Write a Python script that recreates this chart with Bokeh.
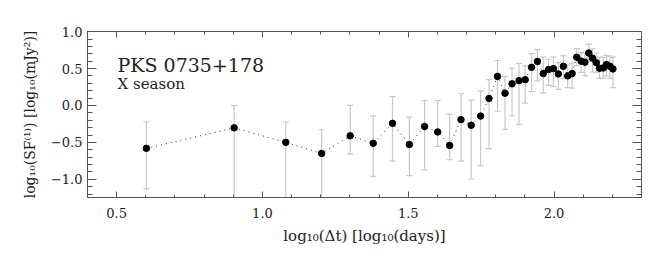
from bokeh.plotting import figure
from bokeh.models import (Range1d, LinearAxis, SingleIntervalTicker, Label,
                          CustomJSTickFormatter, ColumnDataSource)
from bokeh.embed import file_html
from bokeh.resources import INLINE

# log10(dt) [log10(days)]
log_dt = [0.602, 0.903, 1.080, 1.203, 1.301, 1.380, 1.446, 1.504, 1.556, 1.601,
          1.642, 1.681, 1.716, 1.748, 1.777, 1.806, 1.832, 1.856, 1.880, 1.901,
          1.923, 1.943, 1.963, 1.981, 1.998, 2.015, 2.032, 2.047, 2.062, 2.078,
          2.093, 2.106, 2.119, 2.132, 2.145, 2.156, 2.169, 2.180, 2.192, 2.202]
# log10(SF) [log10(mJy^2)]
log_sf = [-0.581, -0.303, -0.499, -0.650, -0.411, -0.512, -0.242, -0.529, -0.285, -0.359,
          -0.542, -0.192, -0.268, -0.144, 0.095, 0.394, 0.167, 0.294, 0.337, 0.350,
          0.518, 0.598, 0.433, 0.487, 0.500, 0.428, 0.531, 0.402, 0.433, 0.655,
          0.601, 0.587, 0.711, 0.642, 0.581, 0.505, 0.509, 0.555, 0.531, 0.496]
err_hi = [-0.225, 0.003, -0.225, -0.329, 0.003, -0.144, 0.120, -0.157, 0.068, 0.065,
          -0.120, 0.159, 0.072, 0.198, 0.352, 0.610, 0.394, 0.507, 0.572, 0.538,
          0.702, 0.757, 0.655, 0.627, 0.655, 0.581, 0.675, 0.551, 0.574, 0.770,
          0.721, 0.708, 0.833, 0.768, 0.708, 0.657, 0.653, 0.679, 0.668, 0.655]
err_lo = [-1.129, -1.600, -1.600, -1.600, -0.655, -0.960, -0.755, -0.950, -0.872, -0.555,
          -0.735, -0.755, -0.996, -0.816, -0.585, -0.078, -0.324, -0.141, -0.255, 0.033,
          0.187, 0.333, 0.172, 0.274, 0.255, 0.219, 0.363, 0.241, 0.235, 0.539,
          0.448, 0.401, 0.603, 0.454, 0.444, 0.369, 0.372, 0.401, 0.368, 0.241]

title_text = "PKS 0735+178"
subtitle_text = "X season"
x_label = "log\u2081\u2080(\u0394t) [log\u2081\u2080(days)]"
y_label = "log\u2081\u2080(SF\u207d\u00b9\u207e) [log\u2081\u2080(mJy\u00b2)]"

FONT = "DejaVu Serif"
AX = "#555555"
TXT = "#222222"
ERR = "#c8c8c8"

src = ColumnDataSource(dict(x=log_dt, y=log_sf, hi=err_hi, lo=err_lo))

p = figure(width=650, height=247, output_backend="svg", toolbar_location=None,
           x_range=Range1d(0.4, 2.3), y_range=Range1d(-1.247, 1.003),
           min_border_left=87, min_border_right=9, min_border_top=31,
           min_border_bottom=44, x_axis_location=None, y_axis_location=None)
p.grid.visible = False
p.outline_line_color = AX
p.background_fill_color = "white"
p.border_fill_color = "white"

fmt = CustomJSTickFormatter(code="return tick.toFixed(1).replace('-', '\u2212');")
blank = CustomJSTickFormatter(code="return '';")

def make_axis(kind, loc):
    ax = LinearAxis(ticker=SingleIntervalTicker(interval=0.5, num_minor_ticks=5))
    ax.axis_line_color = AX
    ax.major_tick_line_color = AX
    ax.minor_tick_line_color = AX
    ax.major_tick_out = 0
    ax.minor_tick_out = 0
    if kind == "x":
        ax.major_tick_in = 6
        ax.minor_tick_in = 3
    else:
        ax.major_tick_in = 9
        ax.minor_tick_in = 5
    ax.major_label_text_font = FONT
    ax.major_label_text_color = TXT
    ax.major_label_text_font_size = "13px"
    ax.axis_label_text_font = FONT
    ax.axis_label_text_font_style = "normal"
    ax.axis_label_text_color = TXT
    if loc in ("above", "right"):
        ax.formatter = blank
        ax.major_label_standoff = 0
    else:
        ax.formatter = fmt
    p.add_layout(ax, loc)
    return ax

xb = make_axis("x", "below")
xb.axis_label = x_label
xb.axis_label_text_font_size = "15px"
xb.major_label_standoff = 10
xb.axis_label_standoff = 6
make_axis("x", "above")
yl = make_axis("y", "left")
yl.axis_label = y_label
yl.axis_label_text_font_size = "14px"
yl.major_label_standoff = 5
yl.axis_label_standoff = 10
make_axis("y", "right")

# error bars
p.segment(x0="x", y0="lo", x1="x", y1="hi", source=src, line_color=ERR, line_width=1.2)
p.scatter(x="x", y="hi", source=src, marker="dash", size=6, line_color=ERR, line_width=1.2)
p.scatter(x="x", y="lo", source=src, marker="dash", size=6, line_color=ERR, line_width=1.2)

# dotted connecting line
p.line(x="x", y="y", source=src, line_color="#333333", line_width=1, line_dash="1 4")

# points
p.scatter(x="x", y="y", source=src, marker="circle", size=6.5,
          fill_color="black", line_color="black")

p.add_layout(Label(x=0.503, y=0.555, text=title_text, text_font=FONT,
                   text_font_size="19px", text_color=TXT, text_baseline="alphabetic"))
p.add_layout(Label(x=0.503, y=0.294, text=subtitle_text, text_font=FONT,
                   text_font_size="15px", text_color=TXT, text_baseline="alphabetic"))

open("out.html", "w").write(file_html(p, INLINE))
